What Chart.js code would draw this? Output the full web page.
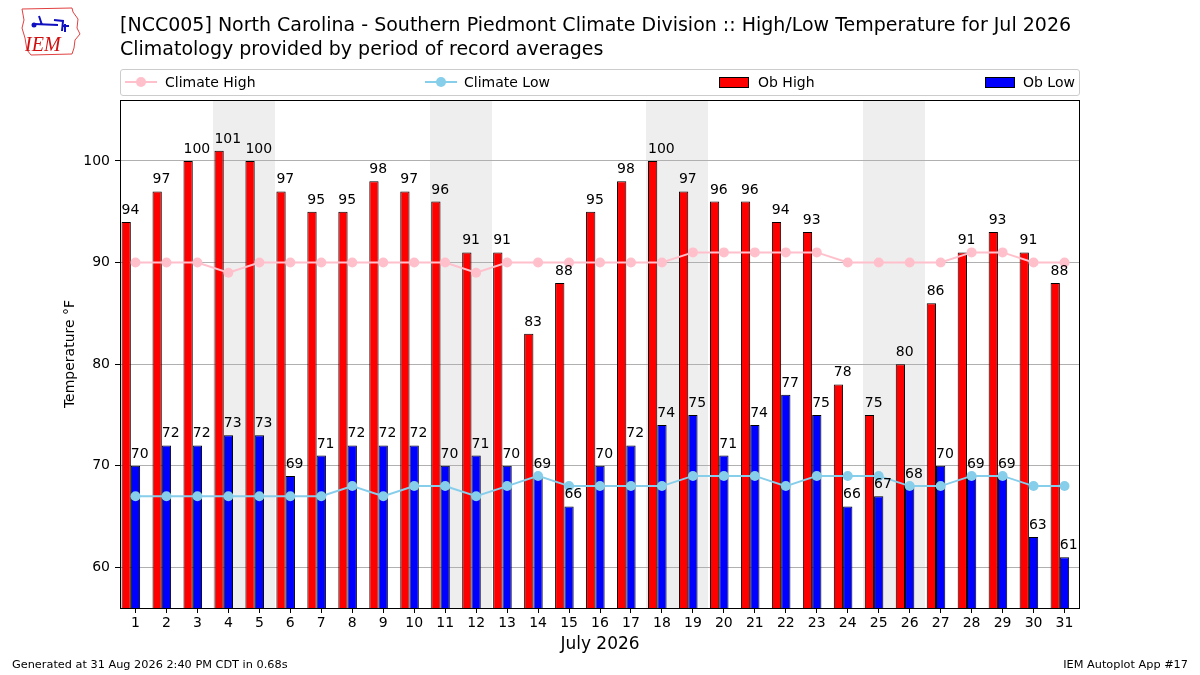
<!DOCTYPE html>
<html>
<head>
<meta charset="utf-8">
<script src="https://cdn.jsdelivr.net/npm/chart.js@4"></script>
<style>
  body { margin: 0; background: #fff; font-family: "DejaVu Sans", sans-serif; color: #000; }
  #wrap { position: relative; width: 1200px; height: 675px; overflow: hidden; }
  #chart { position: absolute; left: 0; top: 0; }
  .title { position: absolute; left: 120px; font-size: 19px; line-height: 22px; white-space: nowrap; }
  #legend { position: absolute; left: 120px; top: 69px; width: 958px; height: 25px; border: 1px solid #cccccc; border-radius: 3px; font-size: 14px; }
  .item { position: absolute; top: 0; height: 25px; line-height: 25px; white-space: nowrap; }
  .item svg { position: absolute; top: 6px; }
  .item span { position: absolute; top: 0; }
  .foot { position: absolute; top: 657px; font-size: 11.3px; line-height: 16px; white-space: nowrap; }
</style>
</head>
<body>
<div id="wrap">
  <canvas id="chart" width="1200" height="675"></canvas>
  <svg style="position:absolute;left:14px;top:4px" width="72" height="56" viewBox="0 0 72 56">
    <path d="M8 5 L58 4 L59 8 L64 15 L63 24 L66 30 L61 36 L60 44 L58 50 L17 51 L13 46 L11 34 L8 24 L10 16 Z" fill="none" stroke="#e04040" stroke-width="1"/>
    <path d="M20 20 L44 21 M25 12 L28 21 M40 16 L49 17 L48 27 M49 22 L55 22 M51 20 L51 28" stroke="#1010c0" stroke-width="2" fill="none"/>
    <circle cx="20" cy="21" r="2.5" fill="#1010c0"/>
    <text x="11" y="47" font-family="Liberation Serif, serif" font-style="italic" font-size="20" fill="#d01010">IEM</text>
  </svg>
  <div class="title" style="top:13px">[NCC005] North Carolina - Southern Piedmont Climate Division :: High/Low Temperature for Jul 2026</div>
  <div class="title" style="top:37px">Climatology provided by period of record averages</div>
  <div id="legend">
    <div class="item" style="left:4px">
      <svg width="32" height="12"><line x1="0" y1="6" x2="32" y2="6" stroke="#ffc0cb" stroke-width="2"/><circle cx="16" cy="6" r="5" fill="#ffc0cb"/></svg>
      <span style="left:40px">Climate High</span>
    </div>
    <div class="item" style="left:304px">
      <svg width="32" height="12"><line x1="0" y1="6" x2="32" y2="6" stroke="#87ceeb" stroke-width="2"/><circle cx="16" cy="6" r="5" fill="#87ceeb"/></svg>
      <span style="left:39px">Climate Low</span>
    </div>
    <div class="item" style="left:598px">
      <svg width="30" height="12"><rect x="0.5" y="1.5" width="29" height="10" fill="#ff0000" stroke="#000" stroke-width="1"/></svg>
      <span style="left:39px">Ob High</span>
    </div>
    <div class="item" style="left:864px">
      <svg width="30" height="12"><rect x="0.5" y="1.5" width="29" height="10" fill="#0000ff" stroke="#000" stroke-width="1"/></svg>
      <span style="left:38px">Ob Low</span>
    </div>
  </div>
  <div class="foot" style="left:12px">Generated at 31 Aug 2026 2:40 PM CDT in 0.68s</div>
  <div class="foot" style="right:12px">IEM Autoplot App #17</div>
</div>
<script>
var days = ['1','2','3','4','5','6','7','8','9','10','11','12','13','14','15','16',
            '17','18','19','20','21','22','23','24','25','26','27','28','29','30','31'];
var obHigh = [94,97,100,101,100,97,95,95,98,97,96,91,91,83,88,95,98,100,97,96,96,94,93,78,75,80,86,91,93,91,88];
var obLow = [70,72,72,73,73,69,71,72,72,72,70,71,70,69,66,70,72,74,75,71,74,77,75,66,67,68,70,69,69,63,61];
var climHigh = [90,90,90,89,90,90,90,90,90,90,90,89,90,90,90,90,90,90,91,91,91,91,91,90,90,90,90,91,91,90,90];
var climLow = [67,67,67,67,67,67,67,68,67,68,68,67,68,69,68,68,68,68,69,69,69,68,69,69,69,68,68,69,69,68,68];
var weekendDays = ['4','5','11','12','18','19','25','26'];
var yTicks = [60, 70, 80, 90, 100];

var FONT = "DejaVu Sans";

// grey bands behind weekends, black frame and bar labels
var decor = {
    id: 'decor',
    beforeDraw: function (chart) {
        var ctx = chart.ctx, x = chart.scales.x, a = chart.chartArea;
        var half = (x.getPixelForValue(1) - x.getPixelForValue(0)) / 2;
        ctx.save();
        ctx.fillStyle = '#eeeeee';
        weekendDays.forEach(function (d) {
            var c = x.getPixelForValue(days.indexOf(d));
            var l = Math.round(c - half), r = Math.round(c + half);
            ctx.fillRect(l, a.top, r - l, a.bottom - a.top);
        });
        ctx.restore();
    },
    afterDraw: function (chart) {
        var ctx = chart.ctx, a = chart.chartArea;
        ctx.save();
        ctx.font = '14px "' + FONT + '"';
        ctx.fillStyle = '#000';
        ctx.textAlign = 'left';
        ctx.textBaseline = 'alphabetic';
        [0, 1].forEach(function (i) {
            var meta = chart.getDatasetMeta(i);
            var vals = chart.data.datasets[i].data;
            meta.data.forEach(function (bar, j) {
                ctx.fillText(String(vals[j]), bar.x - bar.width / 2, bar.y - 8);
            });
        });
        ctx.strokeStyle = '#000';
        ctx.lineWidth = 1;
        ctx.strokeRect(Math.round(a.left) + 0.5, Math.round(a.top) + 0.5,
            Math.round(a.right - a.left) - 1, Math.round(a.bottom - a.top));
        // axis titles
        ctx.textAlign = 'center';
        ctx.font = '17px "' + FONT + '"';
        ctx.textBaseline = 'middle';
        ctx.fillText('July 2026', (a.left + a.right) / 2, 645);
        ctx.font = '14px "' + FONT + '"';
        ctx.translate(70, (a.top + a.bottom) / 2);
        ctx.rotate(-Math.PI / 2);
        ctx.fillText('Temperature °F', 0, 0);
        ctx.restore();
    }
};

new Chart(document.getElementById('chart'), {
    data: {
        labels: days,
        datasets: [
            { type: 'bar', label: 'Ob High', data: obHigh, backgroundColor: '#ff0000',
              borderColor: '#000', borderWidth: 1, order: 3,
              categoryPercentage: 0.9, barPercentage: 1.0 },
            { type: 'bar', label: 'Ob Low', data: obLow, backgroundColor: '#0000ff',
              borderColor: '#000', borderWidth: 1, order: 3,
              categoryPercentage: 0.9, barPercentage: 1.0 },
            // empty slot so the bar pair sits left of the tick like the original
            { type: 'bar', label: '', data: [], order: 3,
              categoryPercentage: 0.9, barPercentage: 1.0 },
            { type: 'line', label: 'Climate High', data: climHigh, borderColor: '#ffc0cb',
              backgroundColor: '#ffc0cb', borderWidth: 2, pointRadius: 5, pointBorderWidth: 0,
              tension: 0, order: 1 },
            { type: 'line', label: 'Climate Low', data: climLow, borderColor: '#87ceeb',
              backgroundColor: '#87ceeb', borderWidth: 2, pointRadius: 5, pointBorderWidth: 0,
              tension: 0, order: 1 }
        ]
    },
    options: {
        responsive: false,
        animation: false,
        devicePixelRatio: 1,
        layout: { padding: { left: 0, top: 100, right: 120, bottom: 0 } },
        plugins: { legend: { display: false }, tooltip: { enabled: false } },
        scales: {
            x: {
                offset: true,
                grid: { display: true, drawOnChartArea: false, offset: false,
                        tickColor: '#000', tickLength: 5 },
                border: { display: false },
                ticks: { color: '#000', font: { family: FONT, size: 14 }, padding: 2,
                         maxRotation: 0, autoSkip: false },
                afterFit: function (s) { s.height = 67; }
            },
            y: {
                min: 56, max: 106,
                grid: { color: '#b0b0b0', lineWidth: 1, tickColor: '#000', tickLength: 5 },
                border: { display: false },
                ticks: { color: '#000', font: { family: FONT, size: 14 }, padding: 5 },
                afterBuildTicks: function (s) {
                    s.ticks = yTicks.map(function (v) { return { value: v }; });
                },
                afterFit: function (s) { s.width = 120; }
            }
        }
    },
    plugins: [decor]
});
</script>
</body>
</html>
